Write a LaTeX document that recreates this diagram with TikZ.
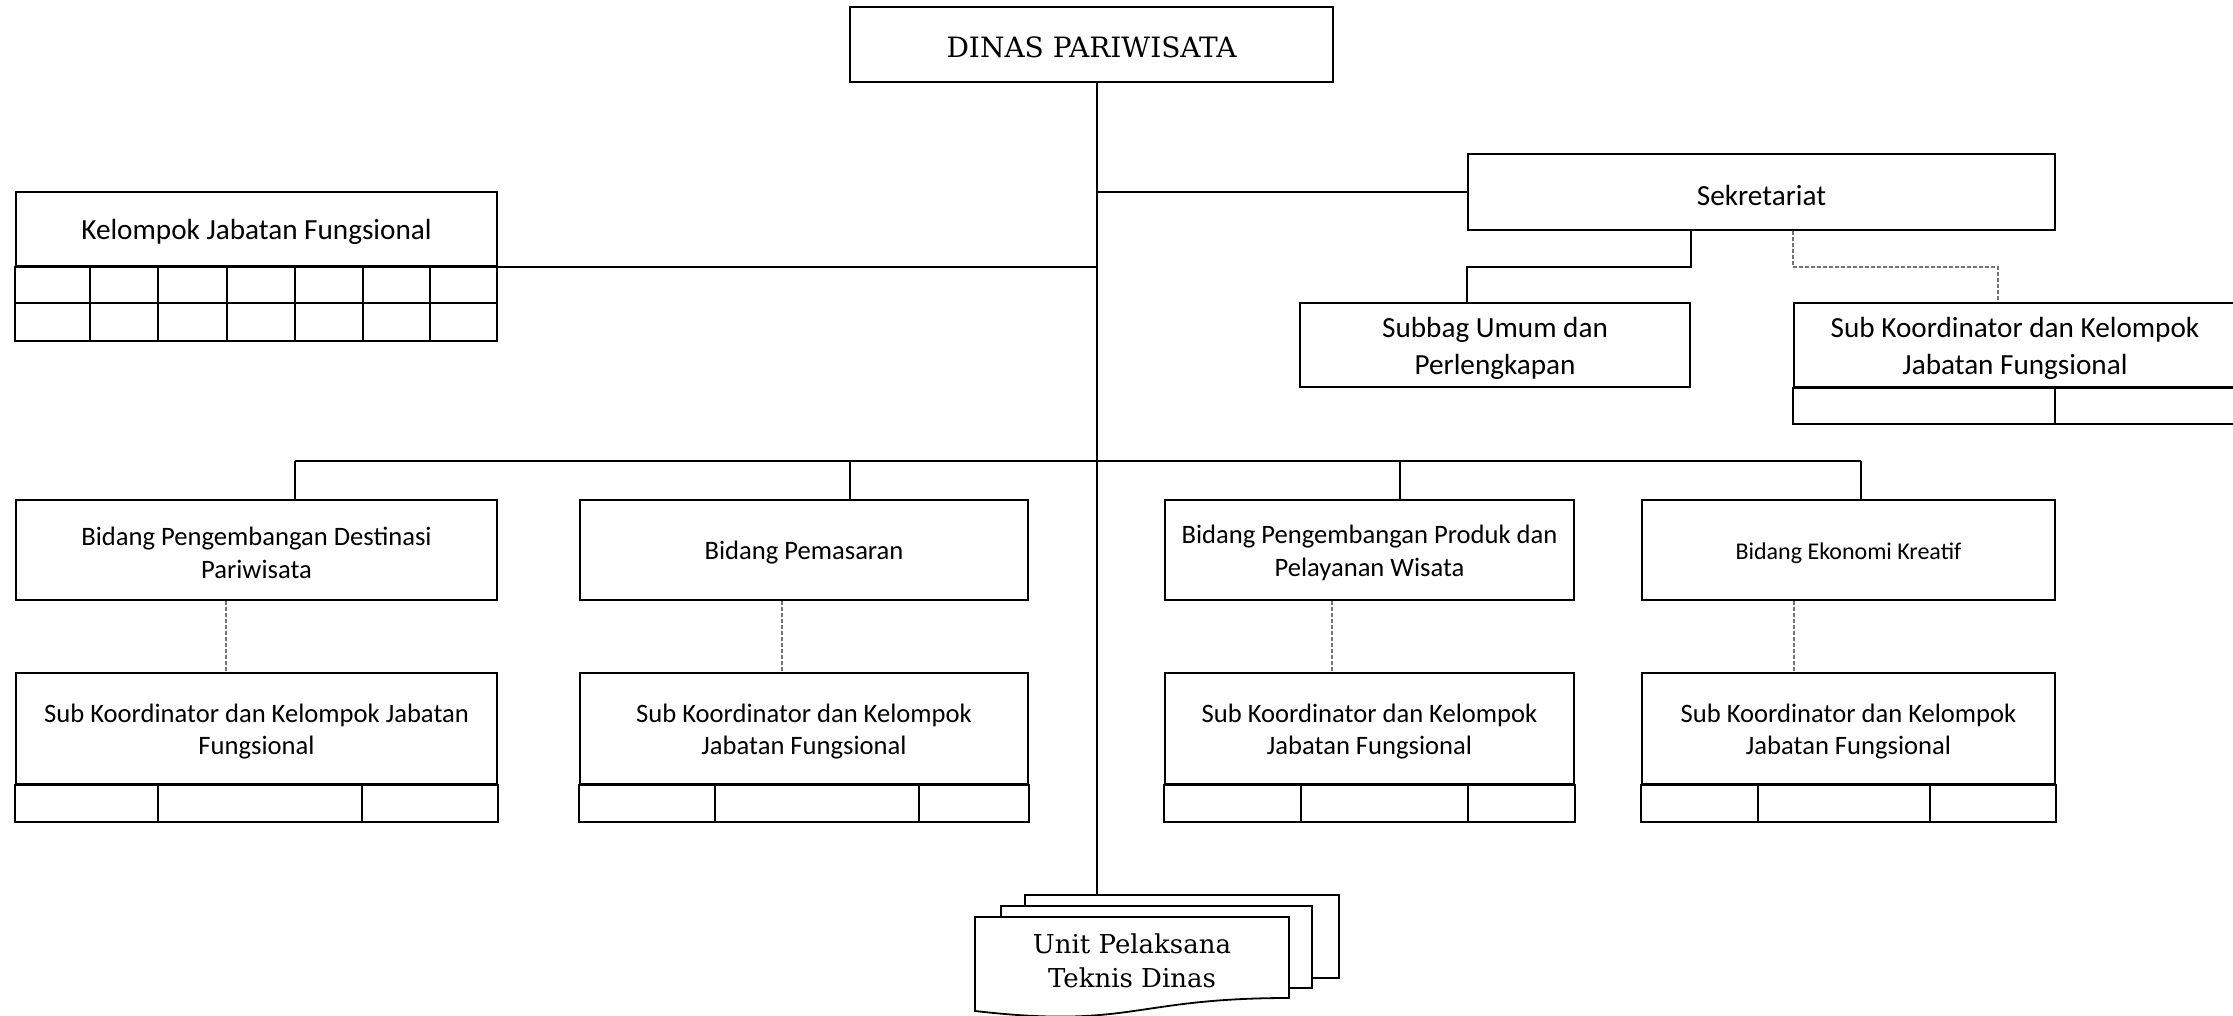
\documentclass[tikz,border=0pt]{standalone}
\usepackage{fontspec}
\setmainfont{Carlito}
\newfontfamily\titlefont{DejaVu Serif}
\usetikzlibrary{fit}
% rectangle node given by its corner coordinates (picture units),
% with its text set a little below the geometric centre
\newcommand{\orgbox}[7]{%
  \node[box,minimum width={(#4-#2)*0.5pt},minimum height={(#5-#3)*0.5pt}]
    (#1) at ({(#2+#4)/2},{(#3+#5)/2}) {};
  \node[#6, align=center] (#1-text) at ([yshift=-1.5pt]#1.center) {#7};}
\begin{document}
\begin{tikzpicture}[x=0.5pt,y=-0.5pt,
  box/.style={draw, line width=1.1pt, inner sep=0pt},
  gridline/.style={line width=1.1pt},
  link/.style={line width=0.8pt},
  dotlink/.style={line width=0.6pt, draw=black!55, dash pattern=on 2pt off 1pt},
  sheet/.style={draw, fill=white, line width=0.9pt},
  lvlT/.style={font=\titlefont\fontsize{14}{17}\selectfont},
  lvlU/.style={font=\titlefont\fontsize{13}{17}\selectfont},
  lvlA/.style={font=\fontsize{14.6}{18.5}\selectfont},
  lvlB/.style={font=\fontsize{13.3}{16.3}\selectfont},
  lvlC/.style={font=\fontsize{12}{15}\selectfont},
]
\useasboundingbox (0,0) rectangle (2233,1016);

% head office
\orgbox{dinas}{850}{7}{1333}{82}{lvlT}{DINAS PARIWISATA}

% secretariat and its units
\orgbox{sekr}{1468}{154}{2055}{230}{lvlA}{Sekretariat}
\orgbox{subbag}{1300}{303}{1690}{387}{lvlA}{Subbag Umum dan\\Perlengkapan}
\orgbox{sks}{1794}{303}{2236}{387}{lvlA}{Sub Koordinator dan Kelompok\\Jabatan Fungsional}
\draw[gridline] (sks.south west) rectangle (2236,424);
\draw[gridline] (2055,387) -- (2055,424);

% functional group with its grid
\orgbox{kjf}{16}{192}{497}{266}{lvlA}{Kelompok Jabatan Fungsional}
\draw[gridline] (kjf.south west) rectangle (497,341);
\draw[gridline] (16,303) -- (497,303);
\foreach \x in {90,158,227,295,363,430} \draw[gridline] (\x,266) -- (\x,341);

% departments
\orgbox{b1}{16}{500}{497}{600}{lvlB}{Bidang Pengembangan Destinasi\\Pariwisata}
\orgbox{b2}{580}{500}{1028}{600}{lvlB}{Bidang Pemasaran}
\orgbox{b3}{1165}{500}{1574}{600}{lvlB}{Bidang Pengembangan Produk dan\\Pelayanan Wisata}
\orgbox{b4}{1642}{500}{2055}{600}{lvlC}{Bidang Ekonomi Kreatif}

% coordinator groups under the departments
\orgbox{s1}{16}{673}{497}{784}{lvlB}{Sub Koordinator dan Kelompok Jabatan\\Fungsional}
\orgbox{s2}{580}{673}{1028}{784}{lvlB}{Sub Koordinator dan Kelompok\\Jabatan Fungsional}
\orgbox{s3}{1165}{673}{1574}{784}{lvlB}{Sub Koordinator dan Kelompok\\Jabatan Fungsional}
\orgbox{s4}{1642}{673}{2055}{784}{lvlB}{Sub Koordinator dan Kelompok\\Jabatan Fungsional}
\foreach \n/\xa/\xb in {s1/158/362, s2/715/919, s3/1301/1468, s4/1758/1930} {
  \draw[gridline] (\n.south west) rectangle ([yshift=-18.5pt]\n.south east);
  \draw[gridline] (\xa,784) -- (\xa,821);
  \draw[gridline] (\xb,784) -- (\xb,821);
}

% technical units (stacked documents)
\node[sheet, inner sep=0pt, fit={(1025,895)(1339,978)}] (uptback) {};
\node[sheet, inner sep=0pt, fit={(1001,906)(1312,988)}] (uptmid) {};
\draw[sheet] (975,917) -- (1289,917) -- (1289,998)
  .. controls (1132,998) and (1132,1029) .. (975,1011) -- cycle;
\node[lvlU, align=center] (upt) at (1132,961) {Unit Pelaksana\\Teknis Dinas};

% main spine and branches
\coordinate (sp) at (1097,0);
\draw[link] (dinas.south -| sp) -- (uptback.north -| sp);
\draw[link] (sp |- sekr.west) -- (sekr.west);
\draw[link] (sp |- kjf.south east) -- (kjf.south east);

\coordinate (sk) at (0,267);
\draw[link] (subbag.east |- sekr.south) -- (subbag.east |- sk) -- (sekr.west |- sk) -- (sekr.west |- subbag.north);
\coordinate (dk) at (1998,267);
\draw[dotlink] (sks.west |- sekr.south) -- (sks.west |- dk) -- (dk) -- (dk |- sks.north);

\coordinate (bus1) at (295,461);
\coordinate (bus2) at (850,461);
\coordinate (bus3) at (1400,461);
\coordinate (bus4) at (1861,461);
\draw[link] (bus1) -- (bus4);
\foreach \i in {1,2,3,4} \draw[link] (bus\i) -- (bus\i |- b\i.north);

\coordinate (d1) at (226,0);
\coordinate (d2) at (782,0);
\coordinate (d3) at (1332,0);
\coordinate (d4) at (1794,0);
\foreach \i in {1,2,3,4}
  \draw[dotlink] (b\i.south -| d\i) -- (s\i.north -| d\i);
\end{tikzpicture}
\end{document}
